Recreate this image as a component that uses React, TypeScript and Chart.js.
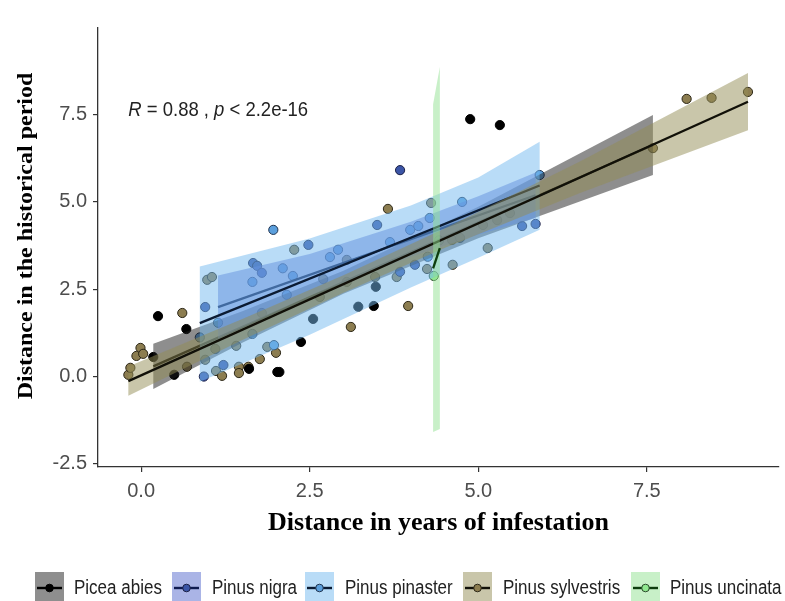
import React, { useEffect, useRef } from "react";
import { Chart, registerables } from "chart.js";

Chart.register(...registerables);

// ---------- categories ----------
const speciesNames = ["Picea abies", "Pinus nigra", "Pinus pinaster", "Pinus sylvestris", "Pinus uncinata"];

// ---------- observed points ----------
const piceaX = [0.18, 0.25, 0.49, 0.67, 1.6, 2.02, 2.05, 2.37, 2.55, 3.22, 3.45, 3.48, 4.88, 5.32];
const piceaY = [0.56, 1.73, 0.05, 1.36, 0.22, 0.13, 0.13, 0.99, 1.65, 2.0, 2.02, 2.57, 7.37, 7.2];

const nigraX = [0.93, 0.95, 1.22, 1.66, 1.72, 1.79, 2.48, 3.5, 3.84, 3.84, 4.06, 5.65, 5.85];
const nigraY = [0.0, 1.99, 0.33, 3.25, 3.17, 2.97, 3.77, 4.34, 5.91, 3.0, 3.2, 4.31, 4.37];

const pinasterX = [0.87, 1.14, 1.65, 1.65, 1.96, 1.97, 2.1, 2.16, 2.25, 2.8, 2.92, 3.69, 3.99, 4.11, 4.25, 4.28, 4.76, 5.91];
const pinasterY = [1.12, 1.54, 2.71, 1.22, 4.2, 0.9, 3.1, 2.34, 2.88, 3.42, 3.63, 3.85, 4.2, 4.31, 3.43, 4.54, 5.0, 5.77];

const sylvestrisX = [-0.19, -0.16, -0.07, -0.01, 0.03, 0.61, 0.68, 0.95, 0.98, 1.05, 1.1, 1.11, 1.2, 1.41, 1.45, 1.45, 1.59, 1.76, 1.79, 1.87, 2.0, 2.27, 2.65, 2.7, 3.05, 3.05, 3.11, 3.47, 3.66, 3.79, 3.96, 4.24, 4.3, 4.61, 4.62, 4.73, 5.07, 5.14, 5.28, 5.47, 7.59, 8.09, 8.46, 9.0];
const sylvestrisY = [0.05, 0.25, 0.59, 0.82, 0.65, 1.82, 0.28, 0.48, 2.77, 2.85, 0.79, 0.16, 0.02, 0.88, 0.28, 0.1, 0.28, 0.5, 1.82, 0.85, 0.68, 3.63, 2.28, 2.79, 3.34, 2.71, 1.42, 2.85, 4.8, 2.85, 2.02, 3.08, 4.97, 3.91, 3.2, 3.97, 4.34, 3.68, 4.48, 4.68, 6.54, 7.95, 7.98, 8.15];

const uncinataX = [4.34, 4.42];
const uncinataY = [2.88, 3.9];

// ---------- fitted lines ----------
const piceaFitX = [0.18, 7.59];
const piceaFitY = [0.29, 6.63];
const nigraFitX = [1.14, 5.85];
const nigraFitY = [1.99, 5.19];
const pinasterFitX = [0.87, 5.91];
const pinasterFitY = [1.53, 5.47];
const sylvestrisFitX = [-0.19, 9.0];
const sylvestrisFitY = [-0.13, 7.87];
const uncinataFitX = [4.33, 4.43];
const uncinataFitY = [3.1, 3.68];

// ---------- confidence ribbons ----------
const piceaRibX = [0.18, 1.5, 3.0, 5.0, 7.59];
const piceaRibUp = [0.94, 1.87, 3.03, 4.86, 7.49];
const piceaRibLo = [-0.36, 0.97, 2.37, 3.96, 5.77];
const nigraRibX = [1.14, 2.5, 4.0, 5.0, 5.85];
const nigraRibUp = [2.89, 3.51, 4.43, 5.16, 5.84];
const nigraRibLo = [1.09, 2.31, 3.43, 4.06, 4.54];
const pinasterRibX = [0.87, 2.5, 4.0, 5.0, 5.91];
const pinasterRibUp = [3.15, 3.95, 4.9, 5.7, 6.72];
const pinasterRibLo = [-0.15, 1.2, 2.55, 3.4, 4.2];
const sylvestrisRibX = [-0.19, 1.5, 3.0, 4.5, 6.5, 9.0];
const sylvestrisRibUp = [0.29, 1.65, 2.9, 4.24, 6.15, 8.69];
const sylvestrisRibLo = [-0.55, 1.05, 2.4, 3.68, 5.25, 7.05];
const uncinataRibX = [4.33, 4.43];
const uncinataRibUp = [7.8, 8.86];
const uncinataRibLo = [-1.59, -1.5];

// ---------- axes ----------
const xTicks = [0, 2.5, 5, 7.5];
const yTicks = [-2.5, 0, 2.5, 5, 7.5];
const xLimits = [-0.64, 9.46];
const yLimits = [-2.59, 9.98];

// ---------- annotation ----------
const annotPos = [-0.19, 7.63];
const annotParts = [
  { t: "R", italic: true },
  { t: " = 0.88 , ", italic: false },
  { t: "p", italic: true },
  { t: " < 2.2e-16", italic: false },
];

const xTitle = "Distance in years of infestation";
const yTitle = "Distance in the historical period";

// ---------- styles ----------
const pointFill = ["#000000", "#3b55a6", "#5b9fdc", "#8c7d50", "#90e890"];
const pointBorder = ["#000000", "#1a1f45", "#1f3350", "#2b2616", "#2b4a2b"];
const ribbonFill = [
  "rgba(30,30,30,0.5)",
  "rgba(85,105,205,0.5)",
  "rgba(115,185,240,0.5)",
  "rgba(147,141,85,0.5)",
  "rgba(145,225,145,0.5)",
];
const lineColor = ["#000000", "#0e1a50", "#0b1b33", "#111008", "#0d3d0d"];

const groups = [
  { x: piceaX, y: piceaY, fx: piceaFitX, fy: piceaFitY, rx: piceaRibX, ru: piceaRibUp, rl: piceaRibLo },
  { x: nigraX, y: nigraY, fx: nigraFitX, fy: nigraFitY, rx: nigraRibX, ru: nigraRibUp, rl: nigraRibLo },
  { x: pinasterX, y: pinasterY, fx: pinasterFitX, fy: pinasterFitY, rx: pinasterRibX, ru: pinasterRibUp, rl: pinasterRibLo },
  { x: sylvestrisX, y: sylvestrisY, fx: sylvestrisFitX, fy: sylvestrisFitY, rx: sylvestrisRibX, ru: sylvestrisRibUp, rl: sylvestrisRibLo },
  { x: uncinataX, y: uncinataY, fx: uncinataFitX, fy: uncinataFitY, rx: uncinataRibX, ru: uncinataRibUp, rl: uncinataRibLo },
];

const SANS = '"Liberation Sans", Arial, sans-serif';
const SERIF = '"Liberation Serif", "Times New Roman", serif';

const textPlugin = {
  id: "textPlugin",
  afterDraw(chart: any) {
    const ctx: CanvasRenderingContext2D = chart.ctx;
    const xs = chart.scales.x;
    const ys = chart.scales.y;

    // annotation
    ctx.save();
    const ax = xs.getPixelForValue(annotPos[0]);
    const ay = ys.getPixelForValue(annotPos[1]);
    ctx.translate(ax, ay);
    ctx.scale(0.88, 1);
    ctx.fillStyle = "#222";
    ctx.textBaseline = "middle";
    ctx.textAlign = "left";
    let cx = 0;
    for (const p of annotParts) {
      ctx.font = (p.italic ? "italic " : "") + "21px " + SANS;
      ctx.fillText(p.t, cx, 0);
      cx += ctx.measureText(p.t).width;
    }
    ctx.restore();

    // y title
    ctx.save();
    ctx.translate(27, 236);
    ctx.scale(0.85, 1);
    ctx.rotate(-Math.PI / 2);
    ctx.font = "bold 24px " + SERIF;
    ctx.fillStyle = "#000";
    ctx.textAlign = "center";
    ctx.textBaseline = "middle";
    ctx.fillText(yTitle, 0, 0);
    ctx.restore();

    // x title
    ctx.save();
    ctx.font = "bold 26px " + SERIF;
    ctx.fillStyle = "#000";
    ctx.textAlign = "center";
    ctx.textBaseline = "middle";
    ctx.fillText(xTitle, (chart.chartArea.left + chart.chartArea.right) / 2, 523);
    ctx.restore();

    // legend
    const keyX = [35, 172, 305, 463, 631];
    const txtX = [74, 212, 345, 503, 670];
    speciesNames.forEach((name, i) => {
      const k = keyX[i];
      ctx.save();
      ctx.fillStyle = "#fff";
      ctx.fillRect(k, 572, 29, 29);
      ctx.fillStyle = ribbonFill[i];
      ctx.fillRect(k, 572, 29, 29);
      ctx.strokeStyle = lineColor[i];
      ctx.lineWidth = 2.4;
      ctx.beginPath();
      ctx.moveTo(k + 2, 588);
      ctx.lineTo(k + 27, 588);
      ctx.stroke();
      ctx.beginPath();
      ctx.arc(k + 14.5, 588, 3.8, 0, Math.PI * 2);
      ctx.fillStyle = pointFill[i];
      ctx.fill();
      ctx.lineWidth = 1;
      ctx.strokeStyle = pointBorder[i];
      ctx.stroke();
      ctx.restore();

      ctx.save();
      ctx.translate(txtX[i], 594);
      ctx.scale(0.85, 1);
      ctx.font = "20px " + SANS;
      ctx.fillStyle = "#222";
      ctx.textAlign = "left";
      ctx.textBaseline = "alphabetic";
      ctx.fillText(name, 0, 0);
      ctx.restore();
    });
  },
};

export default function App() {
  const ref = useRef<HTMLCanvasElement>(null);

  useEffect(() => {
    const canvas = ref.current;
    if (!canvas) return;
    const datasets: any[] = [];

    groups.forEach((g, i) => {
      datasets.push({
        type: "scatter",
        label: speciesNames[i],
        data: g.x.map((x, j) => ({ x, y: g.y[j] })),
        backgroundColor: pointFill[i],
        borderColor: pointBorder[i],
        borderWidth: 1,
        pointRadius: 4.6,
        showLine: false,
        order: 100,
      });
    });

    groups.forEach((g, i) => {
      const poly = [
        ...g.rx.map((x, j) => ({ x, y: g.ru[j] })),
        ...g.rx.map((x, j) => ({ x, y: g.rl[j] })).reverse(),
      ];
      datasets.push({
        type: "line",
        label: speciesNames[i] + " CI",
        data: poly,
        fill: "shape",
        backgroundColor: ribbonFill[i],
        borderWidth: 0,
        borderColor: "rgba(0,0,0,0)",
        pointRadius: 0,
        tension: 0,
        order: 50 - 2 * i,
      });
      datasets.push({
        type: "line",
        label: speciesNames[i] + " fit",
        data: g.fx.map((x, j) => ({ x, y: g.fy[j] })),
        fill: false,
        borderColor: lineColor[i],
        borderWidth: 2.3,
        pointRadius: 0,
        tension: 0,
        order: 49 - 2 * i,
      });
    });

    const tickFont = { family: SANS, size: 20 };

    const chart = new Chart(canvas, {
      type: "scatter",
      data: { datasets },
      options: {
        animation: false,
        responsive: false,
        devicePixelRatio: 1,
        events: [],
        layout: { padding: { left: 0, right: 6, top: 28, bottom: 0 } },
        plugins: { legend: { display: false }, tooltip: { enabled: false } },
        scales: {
          x: {
            type: "linear",
            min: xLimits[0],
            max: xLimits[1],
            afterFit: (s: any) => {
              s.height = 134;
            },
            afterBuildTicks: (s: any) => {
              s.ticks = xTicks.map((v) => ({ value: v }));
            },
            grid: { display: true, drawOnChartArea: false, drawTicks: true, tickLength: 5, color: "#333", lineWidth: 1.2 },
            border: { display: true, color: "#333", width: 1.3 },
            ticks: {
              font: tickFont,
              color: "#4d4d4d",
              padding: 7,
              maxRotation: 0,
              autoSkip: false,
              callback: (v: any) => Number(v).toFixed(1),
            },
          },
          y: {
            type: "linear",
            min: yLimits[0],
            max: yLimits[1],
            afterFit: (s: any) => {
              s.width = 98;
            },
            afterBuildTicks: (s: any) => {
              s.ticks = yTicks.map((v) => ({ value: v }));
            },
            grid: { display: true, drawOnChartArea: false, drawTicks: true, tickLength: 5, color: "#333", lineWidth: 1.2 },
            border: { display: true, color: "#333", width: 1.3 },
            ticks: {
              font: tickFont,
              color: "#4d4d4d",
              padding: 6,
              autoSkip: false,
              callback: (v: any) => Number(v).toFixed(1),
            },
          },
        },
      } as any,
      plugins: [textPlugin],
    });

    return () => {
      chart.destroy();
    };
  }, []);

  return (
    <div style={{ position: "absolute", left: 0, top: 0, width: 785, height: 601, background: "#fff" }}>
      <canvas ref={ref} width={785} height={601} style={{ display: "block" }} />
    </div>
  );
}
